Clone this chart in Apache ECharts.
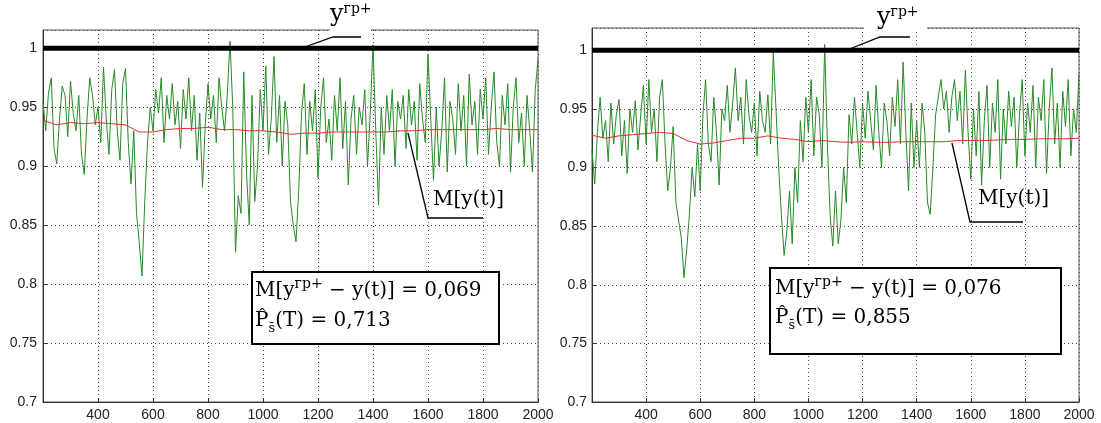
<!DOCTYPE html>
<html><head><meta charset="utf-8">
<script src="https://cdn.jsdelivr.net/npm/echarts@6/dist/echarts.min.js"></script>
<style>html,body{margin:0;padding:0;background:#fff;} #c{width:1101px;height:423px;}</style>
</head><body><div id="c"></div>
<script>
// sample times: 200..2000 step 10
const tStart = 200, tStep = 10;
const leftY = [
0.955,0.93,0.962,0.975,0.915,0.902,0.94,0.968,0.96,0.925,
0.972,0.945,0.93,0.96,0.91,0.893,0.94,0.975,0.96,0.935,
0.95,0.92,0.984,0.94,0.91,0.965,0.982,0.93,0.905,0.97,
0.983,0.92,0.885,0.93,0.86,0.835,0.807,0.87,0.92,0.95,
0.93,0.965,0.945,0.975,0.92,0.96,0.94,0.97,0.935,0.955,
0.915,0.965,0.94,0.975,0.93,0.96,0.905,0.945,0.882,0.935,
0.97,0.94,0.96,0.92,0.975,0.95,0.93,0.96,1.006,0.95,
0.827,0.875,0.86,0.98,0.895,0.85,0.96,0.87,0.9,0.965,
0.93,0.985,0.91,0.94,0.993,0.92,0.96,0.9,0.955,0.935,
0.87,0.85,0.836,0.88,0.945,0.97,0.91,0.955,0.93,0.965,
0.89,0.95,0.975,0.92,0.94,0.905,0.96,0.93,0.975,0.915,
0.955,0.884,0.94,0.96,0.91,0.95,0.935,0.965,0.9,0.945,
1.003,0.93,0.867,0.95,0.91,0.96,0.93,0.965,0.9,0.955,
0.94,0.96,0.915,0.965,0.935,0.955,0.905,0.97,0.94,0.92,
0.995,0.94,0.888,0.95,0.9,0.93,0.975,0.895,0.955,0.94,
0.91,0.97,0.93,0.96,0.9,0.978,0.935,0.955,0.91,0.965,
0.94,0.975,0.91,0.95,0.98,0.92,0.9,0.96,0.935,0.97,
0.895,0.95,0.975,0.92,0.945,0.9,0.96,0.93,0.895,0.965,
0.99];
const rightY = [
0.915,0.886,0.93,0.96,0.925,0.94,0.905,0.955,0.92,0.945,
0.958,0.91,0.94,0.895,0.95,0.93,0.957,0.915,0.945,0.97,
0.92,0.975,0.93,0.95,0.905,0.96,0.975,0.92,0.88,0.9,
0.935,0.87,0.855,0.84,0.806,0.83,0.86,0.9,0.875,0.92,
0.88,0.945,0.975,0.92,0.905,0.96,0.93,0.885,0.95,0.94,
0.97,0.93,0.955,0.985,0.94,0.96,0.92,0.975,0.945,0.93,
0.955,0.91,0.965,0.94,0.93,0.962,0.92,0.998,0.95,0.9,
0.86,0.825,0.845,0.88,0.835,0.9,0.87,0.94,0.905,0.96,
0.93,0.975,0.91,0.96,0.945,0.9,1.005,0.92,0.86,0.833,
0.88,0.835,0.855,0.9,0.87,0.945,0.92,0.96,0.93,0.9,
0.955,0.925,0.965,0.94,0.915,0.97,0.93,0.9,0.955,0.94,
0.91,0.96,0.935,0.975,0.92,0.99,0.93,0.88,0.955,0.9,
0.94,0.9,0.955,0.93,0.87,0.86,0.9,0.945,0.96,0.975,
0.95,0.965,0.93,0.96,0.975,0.94,0.965,0.92,0.983,0.93,
0.89,0.95,0.91,0.965,0.885,0.94,0.97,0.9,0.955,0.93,
0.975,0.89,0.95,0.92,0.965,0.935,0.96,0.9,0.945,0.975,
0.91,0.955,0.93,0.97,0.9,0.96,0.94,0.975,0.895,0.95,
0.985,0.92,0.955,0.9,0.965,0.935,0.975,0.91,0.95,0.93,
0.98];
const meanT = [200,250,300,350,400,450,500,550,600,650,700,750,800,850,900,950,1000,1050,1100,1150,1200,1250,1300,1350,1400,1450,1500,1550,1600,1650,1700,1750,1800,1850,1900,1950,2000];
const leftMean = [0.939,0.935,0.937,0.936,0.937,0.936,0.935,0.929,0.929,0.931,0.932,0.932,0.933,0.931,0.931,0.930,0.930,0.929,0.927,0.928,0.928,0.929,0.929,0.929,0.929,0.929,0.930,0.930,0.931,0.931,0.931,0.931,0.931,0.932,0.931,0.931,0.931];
const rightMean = [0.9275,0.925,0.927,0.928,0.929,0.930,0.929,0.923,0.920,0.921,0.923,0.925,0.925,0.927,0.925,0.924,0.922,0.923,0.922,0.9215,0.922,0.9215,0.9215,0.922,0.922,0.922,0.922,0.923,0.923,0.923,0.9235,0.924,0.924,0.9245,0.9245,0.9245,0.925];
const yBound = 1;
const xRange = [200, 2000];
const leftStats = ['0,069', '0,713'];
const rightStats = ['0,076', '0,855'];

const pairs = arr => arr.map((v, i) => [tStart + i * tStep, v]);
const meanPairs = arr => arr.map((v, i) => [meanT[i], v]);
const boundPairs = xRange.map(x => [x, yBound]);

const chart = echarts.init(document.getElementById('c'));
const sans = '"Liberation Sans", Arial, sans-serif';
const serif = '"DejaVu Serif", "Liberation Serif", serif';
const gridLine = { show: true, lineStyle: { type: [1, 3], color: '#444', width: 1 } };

function xAx(gi) {
  return {
    type: 'value', gridIndex: gi, min: 200, max: 2000, interval: 200,
    axisLine: { show: true, lineStyle: { color: '#333', width: 1 } },
    axisTick: { show: true, inside: true, length: 4, lineStyle: { color: '#333' } },
    axisLabel: { showMinLabel: false, color: '#222', fontFamily: sans, fontSize: 14, margin: 6,
      formatter: v => String(v) },
    splitLine: gridLine
  };
}
function yAx(gi, max, margin) {
  return {
    type: 'value', gridIndex: gi, min: 0.7, max: max, interval: 0.05,
    axisLine: { show: true, lineStyle: { color: '#333', width: 1 } },
    axisTick: { show: true, inside: true, length: 4, lineStyle: { color: '#333' } },
    axisLabel: { showMaxLabel: false, color: '#222', fontFamily: sans, fontSize: 14, margin: margin,
      formatter: v => String(+v.toFixed(2)) },
    splitLine: gridLine
  };
}
function series(idx, green, mean) {
  return [
    { type: 'line', xAxisIndex: idx, yAxisIndex: idx, data: pairs(green), showSymbol: false,
      lineStyle: { color: '#268a26', width: 1 }, z: 2, silent: true, animation: false },
    { type: 'line', xAxisIndex: idx, yAxisIndex: idx, data: meanPairs(mean), showSymbol: false,
      lineStyle: { color: '#e0302e', width: 1 }, z: 3, silent: true, animation: false },
    { type: 'line', xAxisIndex: idx, yAxisIndex: idx, data: boundPairs, showSymbol: false,
      lineStyle: { color: '#000', width: 5 }, z: 4, silent: true, animation: false }
  ];
}

// text measuring helpers for annotations
const cv = document.createElement('canvas').getContext('2d');
function tw(s, size) { cv.font = size + 'px ' + serif; return cv.measureText(s).width; }
function txt(x, base, s, size) {
  return { type: 'text', x: x, y: base - size * 0.35, z: 100,
    style: { text: s, font: size + 'px ' + serif, fill: '#000', align: 'left', verticalAlign: 'middle',
      textAlign: 'left', textVerticalAlign: 'middle' } };
}
function parts(x, base, list) {
  const out = []; let cx = x;
  list.forEach(p => { out.push(txt(cx, base + (p.dy || 0), p.t, p.s)); cx += tw(p.t, p.s); });
  return out;
}
function poly(points) {
  return { type: 'polyline', z: 90, shape: { points: points }, style: { stroke: '#000', lineWidth: 1.3, fill: null } };
}
function rect(x, y, w, h, stroke, lw) {
  return { type: 'rect', z: 80, shape: { x: x, y: y, width: w, height: h },
    style: { fill: '#fff', stroke: stroke, lineWidth: lw } };
}
const S = 20;
function statBox(bx, by, bw, bh, tx, b1, b2, stats) {
  return [rect(bx, by, bw, bh, '#000', 2)]
    .concat(parts(tx, b1, [{ t: 'M[y', s: S }, { t: 'гр+', s: 14, dy: -9 }, { t: ' − y(t)] = ' + stats[0], s: S }]))
    .concat(parts(tx, b2, [{ t: 'P\u0302', s: S }, { t: 's\u0304', s: 13, dy: 5 }, { t: '(T) = ' + stats[1], s: S }]));
}
function boundLabel(gapX, gapW, gapY, yx, yBase, lead) {
  return [rect(gapX, gapY - 3, gapW, 6, null, 0), poly(lead)]
    .concat(parts(yx, yBase, [{ t: 'y', s: 24 }, { t: 'гр+', s: 14, dy: -9 }]));
}

const graphic = []
  .concat(boundLabel(330, 41, 30, 330, 23, [[302, 48], [333, 37], [361, 37]]))
  .concat(boundLabel(864, 63, 28, 877, 26, [[847, 50], [880, 37], [910, 37]]))
  .concat([poly([[408, 133], [428, 218], [483, 218]]), txt(433, 207, 'M[y(t)]', S)])
  .concat([poly([[952, 143], [970, 222], [1023, 222]]), txt(978, 206, 'M[y(t)]', S)])
  .concat(statBox(252, 272, 247, 72, 255, 298, 328, leftStats))
  .concat(statBox(770, 268, 291, 86, 775, 296, 325, rightStats));

chart.setOption({
  backgroundColor: '#fff',
  animation: false,
  grid: [
    { left: 43, right: 563, top: 30, bottom: 21, show: true, borderColor: '#555', borderWidth: 1 },
    { left: 592, right: 22, top: 28, bottom: 21, show: true, borderColor: '#555', borderWidth: 1 }
  ],
  xAxis: [xAx(0), xAx(1)],
  yAxis: [yAx(0, 1.0155, 6), yAx(1, 1.019, 5)],
  series: series(0, leftY, leftMean).concat(series(1, rightY, rightMean)),
  graphic: graphic
});
</script>
</body></html>
